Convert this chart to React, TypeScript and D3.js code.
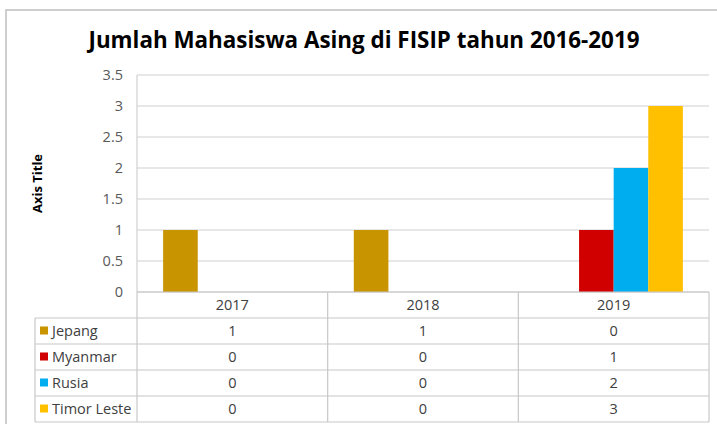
import React from 'react';
import * as d3 from 'd3';

const years = ['2017', '2018', '2019'];
const seriesNames = ['Jepang', 'Myanmar', 'Rusia', 'Timor Leste'];
const seriesColors = ['#C89400', '#D00000', '#00AEEF', '#FFC000'];
const jepang = [1, 1, 0];
const myanmar = [0, 0, 1];
const rusia = [0, 0, 2];
const timorLeste = [0, 0, 3];
const yTicks = [0, 0.5, 1, 1.5, 2, 2.5, 3, 3.5];

const seriesValues = [jepang, myanmar, rusia, timorLeste];

const W = 717;
const H = 424;
const plot = { left: 137, right: 709, top: 75, bottom: 292 };
const rowH = 26;
const tableLeft = 35;
const font = "'Open Sans', 'Noto Sans', sans-serif";
const fs = 14.5;

export default function App() {
  const x = d3.scaleBand<string>().domain(years).range([plot.left, plot.right]).paddingInner(0).paddingOuter(0);
  const inner = d3.scaleBand<string>().domain(seriesNames).range([0, x.bandwidth()]).paddingOuter(0.755).paddingInner(0);
  const y = d3.scaleLinear().domain([0, 3.5]).range([plot.bottom, plot.top]);

  const tableBottom = plot.bottom + rowH * (seriesNames.length + 1);
  const fmt = d3.format('');

  return (
    <svg width={W} height={H} style={{ position: 'absolute', left: 0, top: 0, background: '#fff' }}>
      {/* outer frame */}
      <rect x={6} y={10} width={W} height={H} fill="#fff" stroke="#BFBFBF" strokeWidth={1.5} />

      <text x={364} y={48} textAnchor="middle" fontFamily={font} fontWeight={700} fontSize={22.4} fill="#000">
        Jumlah Mahasiswa Asing di FISIP tahun 2016-2019
      </text>

      {/* grid */}
      {yTicks.map(t => (
        <g key={t}>
          <line x1={plot.left} x2={plot.right} y1={y(t)} y2={y(t)} stroke="#D0D0D0" strokeWidth={1.2} />
          <text x={123} y={y(t) + 5} textAnchor="end" fontFamily={font} fontSize={fs} fill="#595959">
            {fmt(t)}
          </text>
        </g>
      ))}
      <line x1={plot.left} x2={plot.left} y1={plot.top} y2={plot.bottom} stroke="#D0D0D0" strokeWidth={1.2} />

      <text transform={`translate(42,${(plot.top + plot.bottom) / 2}) rotate(-90)`} textAnchor="middle"
        fontFamily={font} fontWeight={700} fontSize={13} fill="#000">
        Axis Title
      </text>

      {/* bars */}
      {seriesValues.map((vals, si) =>
        vals.map((v, yi) =>
          v > 0 ? (
            <rect key={`${si}-${yi}`} x={(x(years[yi]) as number) + (inner(seriesNames[si]) as number)}
              y={y(v)} width={inner.bandwidth()} height={y(0) - y(v)} fill={seriesColors[si]} />
          ) : null
        )
      )}

      {/* data table */}
      <g stroke="#C8C8C8" strokeWidth={1.2} fill="none">
        {d3.range(seriesNames.length + 2).map(i => (
          <line key={'h' + i} x1={i < 1 ? plot.left : tableLeft} x2={plot.right}
            y1={plot.bottom + i * rowH} y2={plot.bottom + i * rowH} />
        ))}
        <line x1={tableLeft} x2={tableLeft} y1={plot.bottom + rowH} y2={tableBottom} />
        {years.map(yr => (
          <line key={yr} x1={x(yr)} x2={x(yr)} y1={plot.bottom} y2={tableBottom} />
        ))}
        <line x1={plot.right} x2={plot.right} y1={plot.bottom} y2={tableBottom} />
      </g>
      {years.map(yr => (
        <text key={yr} x={(x(yr) as number) + x.bandwidth() / 2} y={plot.bottom + rowH / 2 + 5}
          textAnchor="middle" fontFamily={font} fontSize={fs} fill="#404040">
          {yr}
        </text>
      ))}
      {seriesNames.map((name, si) => {
        const cy = plot.bottom + rowH * (si + 1) + rowH / 2;
        return (
          <g key={name}>
            <rect x={40} y={cy - 4.5} width={8} height={8} fill={seriesColors[si]} />
            <text x={52} y={cy + 5} fontFamily={font} fontSize={fs} fill="#404040">{name}</text>
            {seriesValues[si].map((v, yi) => (
              <text key={yi} x={(x(years[yi]) as number) + x.bandwidth() / 2} y={cy + 5}
                textAnchor="middle" fontFamily={font} fontSize={fs} fill="#404040">
                {v}
              </text>
            ))}
          </g>
        );
      })}
    </svg>
  );
}
